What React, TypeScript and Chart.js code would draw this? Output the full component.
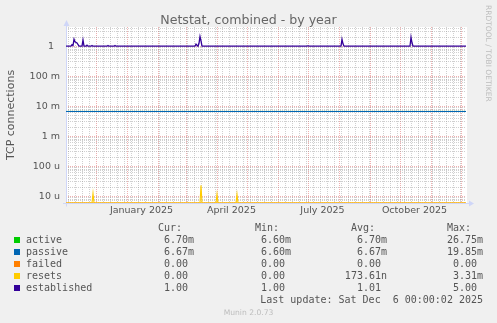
import React, { useEffect, useRef } from "react";
import { Chart, registerables } from "chart.js";

Chart.register(...registerables);

// ---------- data ----------
const TITLE = "Netstat, combined - by year";
const Y_TITLE = "TCP connections";
const WATERMARK_RIGHT = "RRDTOOL / TOBI OETIKER";
const WATERMARK_BOTTOM = "Munin 2.0.73";
const LAST_UPDATE = "Last update: Sat Dec  6 00:00:02 2025";

const START_DATE = "2024-11-01T00:00:00Z";
const END_DATE = "2025-12-06T00:00:00Z";

// y-axis limits (log scale) and decade labels
const Y_MIN = 5.95e-6;
const Y_MAX = 4.37;
const Y_DECADE_EXPONENTS = [-5, -4, -3, -2, -1, 0];
const Y_DECADE_LABELS = ["10 u", "100 u", "1 m", "10 m", "100 m", "1  "];

// x-axis grid and labels
const MONTH_GRID_DATES = [
  "2024-12-01", "2025-01-01", "2025-02-01", "2025-03-01", "2025-04-01", "2025-05-01",
  "2025-06-01", "2025-07-01", "2025-08-01", "2025-09-01", "2025-10-01", "2025-11-01", "2025-12-01",
];
const FIRST_WEEK_GRID_DATE = "2024-11-03";
const X_LABELS = ["January 2025", "April 2025", "July 2025", "October 2025"];
const X_LABEL_DATES = ["2025-01-15T12:00:00Z", "2025-04-15T12:00:00Z", "2025-07-15T12:00:00Z", "2025-10-15T12:00:00Z"];

// series (x = days since start, y = value)
const ACTIVE_DAYS = [0, 400];
const ACTIVE_VALUES = [6.7e-3, 6.7e-3];
const PASSIVE_DAYS = [0, 400];
const PASSIVE_VALUES = [6.67e-3, 6.67e-3];
const FAILED_DAYS = [0, 400];
const FAILED_VALUES = [0, 0];
const RESETS_DAYS = [0, 26, 27, 28, 134, 135, 136, 150, 151, 152, 170, 171, 172, 400];
const RESETS_VALUES = [0, 0, 1.25e-5, 0, 0, 2.3e-5, 0, 0, 1.17e-5, 0, 0, 1.17e-5, 0, 0];
const ESTABLISHED_DAYS = [
  0, 5, 6, 7, 8, 9, 11, 13, 16, 17, 18, 20, 21, 22, 25, 26, 27, 41, 42, 43, 48, 49, 50,
  129, 130, 131, 132, 133, 134, 135, 136, 241, 242, 243, 275, 276, 277, 278, 344, 345, 346, 347, 400,
];
const ESTABLISHED_VALUES = [
  1, 1, 1.12, 1.05, 1.7, 1.4, 1.28, 1, 1, 1.6, 1, 1, 1.08, 1, 1, 1.06, 1, 1, 1.06, 1, 1, 1.06, 1,
  1, 1.17, 1.08, 1, 1.25, 2.1, 1.5, 1, 1, 1.04, 1, 1, 1.7, 1.2, 1, 1, 2.0, 1.3, 1, 1,
];

// legend
const SERIES_NAMES = ["active", "passive", "failed", "resets", "established"];
const SERIES_COLORS = ["#00CC00", "#0066B3", "#FF8000", "#FFCC00", "#330099"];
const LEGEND_HEADERS = ["Cur:", "Min:", "Avg:", "Max:"];
const CUR_VALUES = ["6.70m", "6.67m", "0.00 ", "0.00 ", "1.00 "];
const MIN_VALUES = ["6.60m", "6.60m", "0.00 ", "0.00 ", "1.00 "];
const AVG_VALUES = ["6.70m", "6.67m", "0.00 ", "173.61n", "1.01 "];
const MAX_VALUES = ["26.75m", "19.85m", "0.00 ", "3.31m", "5.00 "];

// ---------- helpers ----------
const DAY_MS = 86400000;
const START_MS = Date.parse(START_DATE);
const TOTAL_DAYS = (Date.parse(END_DATE) - START_MS) / DAY_MS;
const dayOf = (s: string) => (Date.parse(s.length === 10 ? s + "T00:00:00Z" : s) - START_MS) / DAY_MS;

const monthDays = MONTH_GRID_DATES.map(dayOf);
const weekDays: number[] = [];
for (let d = dayOf(FIRST_WEEK_GRID_DATE); d <= TOTAL_DAYS; d += 7) weekDays.push(d);
const labelDays = X_LABEL_DATES.map(dayOf);
const monthSet = new Set(monthDays);
const weekSet = new Set(weekDays.filter((d) => !monthSet.has(d)));
const xTickValues = Array.from(new Set([...monthDays, ...weekDays, ...labelDays])).sort((a, b) => a - b);

const yTickValues: number[] = [];
const yMajor = new Map<number, string>();
[-6].concat(Y_DECADE_EXPONENTS).forEach((e) => {
  for (let k = 1; k <= 9; k++) {
    const v = k * Math.pow(10, e);
    if (v >= Y_MIN && v <= Y_MAX) {
      yTickValues.push(v);
      if (k === 1) {
        const idx = Y_DECADE_EXPONENTS.indexOf(e);
        if (idx >= 0) yMajor.set(v, Y_DECADE_LABELS[idx]);
      }
    }
  }
});

const toPoints = (days: number[], vals: number[]) =>
  days.map((d, i) => ({ x: d, y: vals[i] === 0 ? Y_MIN : vals[i] }));

const TEXT = "#555555";
const GRID_MINOR = "rgba(143,143,143,0.42)";
const GRID_MAJOR = "rgba(222,79,79,0.45)";
const AXIS = "#CFD6F8";

const muninPlugin = {
  id: "munin",
  beforeDraw(chart: any) {
    const { ctx, chartArea: a } = chart;
    ctx.save();
    ctx.fillStyle = "#F0F0F0";
    ctx.fillRect(0, 0, chart.width, chart.height);
    ctx.fillStyle = "#FFFFFF";
    ctx.fillRect(a.left, a.top, a.right - a.left + 1, a.bottom - a.top);
    ctx.restore();
  },
  beforeDatasetsDraw(chart: any) {
    const { ctx, chartArea: a } = chart;
    ctx.save();
    ctx.strokeStyle = AXIS;
    ctx.fillStyle = AXIS;
    ctx.lineWidth = 1;
    const x0 = Math.round(a.left) + 0.5;
    const yb = Math.round(a.bottom) + 0.5;
    ctx.beginPath();
    ctx.moveTo(x0, yb + 3);
    ctx.lineTo(x0, a.top - 5);
    ctx.moveTo(a.left - 3, yb);
    ctx.lineTo(a.right + 3, yb);
    ctx.stroke();
    ctx.beginPath();
    ctx.moveTo(x0 - 3, a.top - 1);
    ctx.lineTo(x0 + 3, a.top - 1);
    ctx.lineTo(x0, a.top - 7);
    ctx.closePath();
    ctx.fill();
    ctx.beginPath();
    ctx.moveTo(a.right + 3, yb - 3);
    ctx.lineTo(a.right + 3, yb + 3);
    ctx.lineTo(a.right + 8, yb);
    ctx.closePath();
    ctx.fill();
    ctx.restore();
  },
  afterDraw(chart: any) {
    const { ctx } = chart;
    ctx.save();
    // title
    ctx.fillStyle = "#666666";
    ctx.font = '12.6px "DejaVu Sans"';
    ctx.textAlign = "center";
    ctx.textBaseline = "alphabetic";
    ctx.fillText(TITLE, 248.5, 24);
    // right watermark
    ctx.save();
    ctx.fillStyle = "#BDBDBD";
    ctx.font = '7.5px "DejaVu Sans"';
    ctx.translate(485.5, 5);
    ctx.rotate(Math.PI / 2);
    ctx.textAlign = "left";
    ctx.fillText(WATERMARK_RIGHT, 0, 0);
    ctx.restore();
    // legend
    ctx.font = '10px "DejaVu Sans Mono"';
    ctx.fillStyle = TEXT;
    const cols = [194, 291, 387, 483];
    ctx.textAlign = "right";
    LEGEND_HEADERS.forEach((h, i) => ctx.fillText(h + "  ", cols[i], 231));
    const tables = [CUR_VALUES, MIN_VALUES, AVG_VALUES, MAX_VALUES];
    SERIES_NAMES.forEach((name, r) => {
      const y = 243 + r * 12;
      ctx.fillStyle = SERIES_COLORS[r];
      ctx.fillRect(14, y - 6, 6, 6);
      ctx.fillStyle = TEXT;
      ctx.textAlign = "left";
      ctx.fillText(name, 26, y);
      ctx.textAlign = "right";
      tables.forEach((t, c) => ctx.fillText(t[r], cols[c], y));
    });
    ctx.fillText(LAST_UPDATE, 483, 303);
    // bottom watermark
    ctx.fillStyle = "#BDBDBD";
    ctx.font = '7.6px "DejaVu Sans"';
    ctx.textAlign = "center";
    ctx.fillText(WATERMARK_BOTTOM, 248.5, 315);
    ctx.restore();
  },
};

export default function App() {
  const ref = useRef<HTMLCanvasElement>(null);
  useEffect(() => {
    document.body.style.margin = "0";
    // first dataset is drawn top-most: established on top, active at the bottom
    const datasets = [
      { label: SERIES_NAMES[4], data: toPoints(ESTABLISHED_DAYS, ESTABLISHED_VALUES), borderColor: SERIES_COLORS[4], borderWidth: 1.3 },
      { label: SERIES_NAMES[3], data: toPoints(RESETS_DAYS, RESETS_VALUES), borderColor: SERIES_COLORS[3] },
      { label: SERIES_NAMES[2], data: toPoints(FAILED_DAYS, FAILED_VALUES), borderColor: SERIES_COLORS[2] },
      { label: SERIES_NAMES[1], data: toPoints(PASSIVE_DAYS, PASSIVE_VALUES), borderColor: SERIES_COLORS[1], borderWidth: 1.2 },
      { label: SERIES_NAMES[0], data: toPoints(ACTIVE_DAYS, ACTIVE_VALUES), borderColor: SERIES_COLORS[0], borderWidth: 1 },
    ].map((d: any) => ({ borderWidth: 1.1, pointRadius: 0, fill: false, tension: 0, ...d }));

    const chart = new Chart(ref.current as HTMLCanvasElement, {
      type: "line",
      data: { datasets } as any,
      plugins: [muninPlugin],
      options: {
        responsive: false,
        animation: false,
        devicePixelRatio: 1,
        layout: { padding: { top: 27, right: 31, left: 0, bottom: 0 } },
        plugins: { legend: { display: false }, tooltip: { enabled: false }, title: { display: false } },
        scales: {
          x: {
            type: "linear",
            min: 0,
            max: TOTAL_DAYS,
            afterBuildTicks: (s: any) => {
              s.ticks = xTickValues.map((v) => ({ value: v }));
            },
            afterFit: (s: any) => {
              s.height = 120;
              s.paddingLeft = 0;
              s.paddingRight = 0;
            },
            ticks: {
              autoSkip: false,
              maxRotation: 0,
              minRotation: 0,
              padding: 2,
              color: TEXT,
              font: { family: "DejaVu Sans", size: 9.5 },
              callback: (v: any) => {
                const i = labelDays.indexOf(v);
                return i >= 0 ? X_LABELS[i] : "";
              },
            },
            grid: {
              drawTicks: false,
              lineWidth: 1,
              color: (ctx: any) => {
                const v = ctx.tick ? ctx.tick.value : -1;
                if (monthSet.has(v)) return GRID_MAJOR;
                if (weekSet.has(v)) return GRID_MINOR;
                return "rgba(0,0,0,0)";
              },
            },
            border: { display: false, dash: [1, 1] },
          },
          y: {
            type: "logarithmic",
            min: Y_MIN,
            max: Y_MAX,
            bounds: "data",
            afterBuildTicks: (s: any) => {
              s.ticks = yTickValues.map((v) => ({ value: v }));
            },
            afterFit: (s: any) => {
              s.width = 66;
              s.paddingTop = 0;
              s.paddingBottom = 0;
            },
            ticks: {
              autoSkip: false,
              padding: 6,
              color: TEXT,
              font: { family: "DejaVu Sans", size: 9.5 },
              callback: (v: any) => yMajor.get(v) ?? "",
            },
            title: {
              display: true,
              text: Y_TITLE,
              color: TEXT,
              font: { family: "DejaVu Sans", size: 11 },
              padding: { top: 5, bottom: 0 },
            },
            grid: {
              drawTicks: false,
              lineWidth: 1,
              color: (ctx: any) => {
                const v = ctx.tick ? ctx.tick.value : -1;
                return yMajor.has(v) ? GRID_MAJOR : GRID_MINOR;
              },
            },
            border: { display: false, dash: [1, 1] },
          },
        },
      } as any,
    });
    return () => chart.destroy();
  }, []);
  return <canvas ref={ref} width={497} height={323} style={{ display: "block", width: 497, height: 323 }} />;
}
